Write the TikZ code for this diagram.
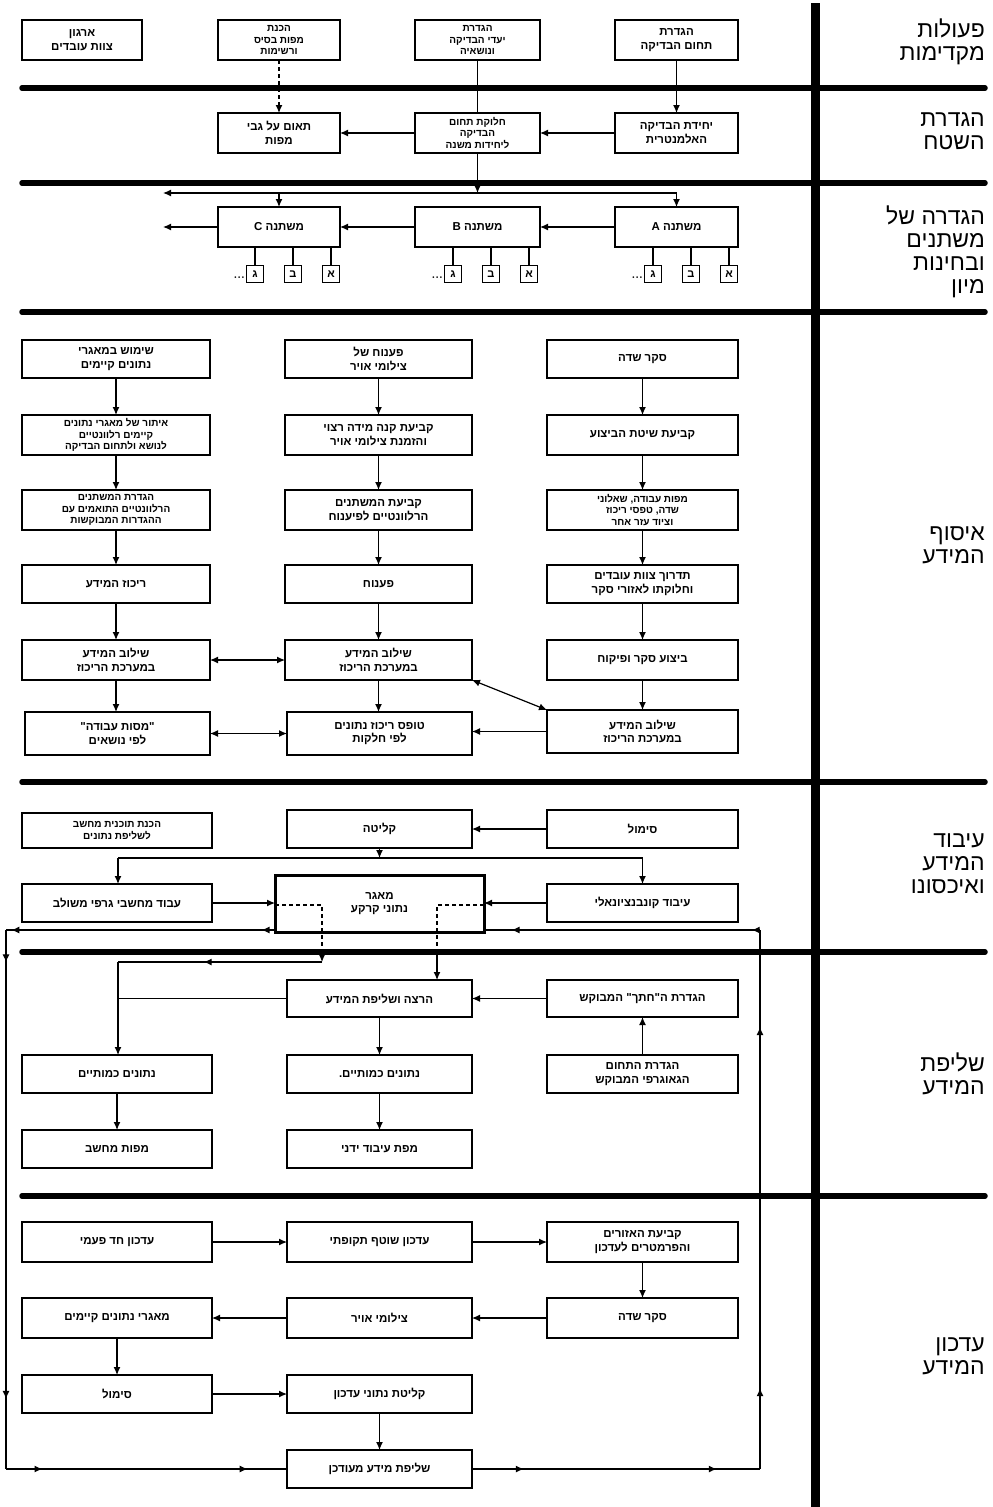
\documentclass[tikz,border=0pt]{standalone}
\usepackage{fontspec}
\usetikzlibrary{arrows.meta,decorations.markings}
\newfontfamily\hebfont[Script=Hebrew]{Liberation Sans}
\TeXXeTstate=1
\newcommand\hb[1]{\beginR #1\endR}
\tikzset{
 box/.style={draw, line width=2pt, fill=white, align=center, inner sep=0pt, outer sep=0pt, font=\hebfont\bfseries\fontsize{11.5}{13.5}\selectfont},
 tri/.style={font=\hebfont\bfseries\fontsize{10}{11.2}\selectfont},
 sbox/.style={draw, line width=1.6pt, fill=white, minimum size=17pt, inner sep=0pt, outer sep=0pt, font=\hebfont\bfseries\fontsize{11}{11}\selectfont},
 arr/.style={line width=1.2pt, -{Latex[length=8pt,width=7pt]}},
 darr/.style={line width=1.2pt, {Latex[length=8pt,width=7pt]}-{Latex[length=8pt,width=7pt]}},
 ln/.style={line width=1.2pt},
 dsh/.style={line width=1.2pt, dash pattern=on 4pt off 3pt},
 sep/.style={line width=5.5pt, line cap=round},
 lbl/.style={font=\hebfont\fontsize{23}{23}\selectfont, align=right, anchor=east, inner sep=0pt},
 marr/.style={postaction={decorate,decoration={markings,mark=at position #1 with {\arrow{Latex[length=8pt,width=7pt]}}}}}
}
\newcommand\bx[7][]{\node[box,#1,minimum width={#5-#3},minimum height={#6-#4}] (#2) at ({(#3+#5)/2},{(#4+#6)/2}) {#7};}
\begin{document}
\begin{tikzpicture}[x=1pt,y=-1pt]
\useasboundingbox (0,0) rectangle (993,1507);
% separators
\draw[line width=9pt] (815,3) -- (815,1507);
\foreach \yy in {88,183,312,782,952,1196} \draw[sep] (22,\yy) -- (985,\yy);
% section titles
\node[lbl] (t1) at (985,42) {\hb{פעולות}\\\hb{מקדימות}};
\node[lbl] (t2) at (985,131) {\hb{הגדרת}\\\hb{השטח}};
\node[lbl] (t3) at (985,252) {\hb{הגדרה של}\\\hb{משתנים}\\\hb{ובחינות}\\\hb{מיון}};
\node[lbl] (t4) at (985,545) {\hb{איסוף}\\\hb{המידע}};
\node[lbl] (t5) at (985,864) {\hb{עיבוד}\\\hb{המידע}\\\hb{ואיכסונו}};
\node[lbl] (t6) at (985,1074) {\hb{שליפת}\\\hb{המידע}};
\node[lbl] (t7) at (985,1356) {\hb{עדכון}\\\hb{המידע}};
% ---- section 1
\bx{a1}{22}{20}{142}{60}{\hb{ארגון}\\\hb{צוות עובדים}}
\bx[tri]{a2}{218}{20}{340}{60}{\hb{הכנת}\\\hb{מפות בסיס}\\\hb{ורשימות}}
\bx[tri]{a3}{415}{20}{540}{60}{\hb{הגדרת}\\\hb{יעדי הבדיקה}\\\hb{ונושאיה}}
\bx{a4}{615}{20}{738}{60}{\hb{הגדרת}\\\hb{תחום הבדיקה}}
% ---- section 2
\bx{b2}{218}{113}{340}{153}{\hb{תאום על גבי}\\\hb{מפות}}
\bx[tri]{b3}{415}{113}{540}{153}{\hb{חלוקת תחום}\\\hb{הבדיקה}\\\hb{ליחידות משנה}}
\bx{b4}{615}{113}{738}{153}{\hb{יחידת הבדיקה}\\\hb{האלמנטרית}}
\draw[dsh,-{Latex[length=8pt,width=7pt]}] (a2.south) -- (b2.north);
\draw[ln] (a3.south) -- (b3.north);
\draw[arr] (a4.south) -- (b4.north);
\draw[arr] (b4.west) -- (b3.east);
\draw[arr] (b3.west) -- (b2.east);
% ---- section 3
\bx{c2}{218}{207}{340}{247}{\hb{משתנה C}}
\bx{c3}{415}{207}{540}{247}{\hb{משתנה B}}
\bx{c4}{615}{207}{738}{247}{\hb{משתנה A}}
\coordinate (dL) at (163,193);
\coordinate (cL) at (163,227);
\draw[arr] (b3.south) -- (b3.south |- dL);
\draw[arr] (c4.north |- dL) -- (dL);
\draw[arr] (c4.north |- dL) -- (c4.north);
\draw[arr] (c2.north |- dL) -- (c2.north);
\draw[arr] (c4.west) -- (c3.east);
\draw[arr] (c3.west) -- (c2.east);
\draw[arr] (c2.west) -- (cL);
\foreach \b/\x in {c2/218,c3/416,c4/616}{
  \node[sbox] (\b g) at (\x+37,274) {\hb{ג}};
  \node[sbox] (\b b) at (\x+75,274) {\hb{ב}};
  \node[sbox] (\b a) at (\x+113,274) {\hb{א}};
  \node[font=\bfseries\fontsize{12}{12}\selectfont, anchor=east, inner sep=1pt] (\b dots) at (\x+28,278) {...};
  \foreach \s in {g,b,a} \draw[ln] (\b\s.north) -- (\b\s.north |- \b.south);
}
% ---- section 4
\bx{L1}{22}{340}{210}{378}{\hb{שימוש במאגרי}\\\hb{נתונים קיימים}}
\bx[tri]{L2}{22}{415}{210}{455}{\hb{איתור של מאגרי נתונים}\\\hb{קיימים רלוונטיים}\\\hb{לנושא ולתחום הבדיקה}}
\bx[tri]{L3}{22}{490}{210}{530}{\hb{הגדרת המשתנים}\\\hb{הרלוונטיים התואמים עם}\\\hb{ההגדרות המבוקשות}}
\bx{L4}{22}{565}{210}{603}{\hb{ריכוז המידע}}
\bx{L5}{22}{640}{210}{680}{\hb{שילוב המידע}\\\hb{במערכת הריכוז}}
\bx{L6}{25}{712}{210}{755}{\hb{"מסות עבודה"}\\\hb{לפי נושאים}}
\bx{M1}{285}{340}{472}{378}{\hb{פענוח של}\\\hb{צילומי אויר}}
\bx{M2}{285}{415}{472}{455}{\hb{קביעת קנה מידה רצוי}\\\hb{והזמנת צילומי אויר}}
\bx{M3}{285}{490}{472}{530}{\hb{קביעת המשתנים}\\\hb{הרלוונטיים לפיענוח}}
\bx{M4}{285}{565}{472}{603}{\hb{פענוח}}
\bx{M5}{285}{640}{472}{680}{\hb{שילוב המידע}\\\hb{במערכת הריכוז}}
\bx{M6}{287}{712}{472}{755}{\hb{טופס ריכוז נתונים}\\\hb{לפי חלקות}}
\bx{R1}{547}{340}{738}{378}{\hb{סקר שדה}}
\bx{R2}{547}{415}{738}{455}{\hb{קביעת שיטת הביצוע}}
\bx[tri]{R3}{547}{490}{738}{530}{\hb{מפות עבודה, שאלוני}\\\hb{שדה, טפסי ריכוז}\\\hb{וציוד עזר אחר}}
\bx{R4}{547}{565}{738}{603}{\hb{תדרוך צוות עובדים}\\\hb{וחלוקתו לאזורי סקר}}
\bx{R5}{547}{640}{738}{680}{\hb{ביצוע סקר ופיקוח}}
\bx{R6}{547}{710}{738}{753}{\hb{שילוב המידע}\\\hb{במערכת הריכוז}}
\foreach \c in {L,M,R}{
  \draw[arr] (\c1.south) -- (\c1.south |- \c2.north);
  \draw[arr] (\c2.south) -- (\c2.south |- \c3.north);
  \draw[arr] (\c3.south) -- (\c3.south |- \c4.north);
  \draw[arr] (\c4.south) -- (\c4.south |- \c5.north);
  \draw[arr] (\c5.south) -- (\c5.south |- \c6.north);
}
\draw[darr] (L5.east) -- (M5.west);
\draw[darr] (L6.east) -- (L6.east -| M6.west);
\draw[arr] (R6.west) -- (R6.west -| M6.east);
\draw[darr] (R6.north west) -- (M5.south east);
% ---- section 5
\bx[tri]{P1}{22}{813}{212}{848}{\hb{הכנת תוכנית מחשב}\\\hb{לשליפת נתונים}}
\bx{P2}{287}{810}{472}{848}{\hb{קליטה}}
\bx{P3}{547}{810}{738}{848}{\hb{סימול}}
\bx{P4}{22}{884}{212}{922}{\hb{עבוד מחשבי גרפי משולב}}
\bx[line width=3pt]{P5}{275}{875}{484}{932}{\hb{מאגר}\\\hb{נתוני קרקע}}
\bx{P6}{547}{884}{738}{922}{\hb{עיבוד קונבנציונאלי}}
\coordinate (d5) at (118,858);
\draw[arr] (P3.west) -- (P2.east);
\draw[arr] (P2.south) -- (P2.south |- d5);
\draw[ln] (d5) -- (P6.north |- d5);
\draw[arr] (d5) -- (d5 |- P4.north);
\draw[arr] (P6.north |- d5) -- (P6.north);
\draw[arr] (P4.east) -- (P4.east -| P5.west);
\draw[arr] (P6.west) -- (P6.west -| P5.east);
\coordinate (kL) at (322,905);
\coordinate (kLb) at (322,950);
\coordinate (kLc) at (322,962);
\coordinate (kR) at (437,905);
\coordinate (kRb) at (437,950);
\draw[dsh] (kL -| P5.west) -- (kL) -- (kLb);
\draw[dsh] (kR -| P5.east) -- (kR) -- (kRb);
% ---- section 6
\bx{Q1}{547}{980}{738}{1017}{\hb{הגדרת ה"חתך" המבוקש}}
\bx{Q2}{547}{1055}{738}{1093}{\hb{הגדרת התחום}\\\hb{הגאוגרפי המבוקש}}
\bx{Q3}{287}{980}{472}{1017}{\hb{הרצה ושליפת המידע}}
\bx{Q4}{287}{1055}{472}{1093}{\hb{נתונים כמותיים.}}
\bx{Q5}{287}{1130}{472}{1168}{\hb{מפת עיבוד ידני}}
\bx{Q6}{22}{1055}{212}{1093}{\hb{נתונים כמותיים}}
\bx{Q7}{22}{1130}{212}{1168}{\hb{מפות מחשב}}
\draw[arr] (kLb) -- (kLc);
\draw[ln, marr=0.58] (kLc) -- (kLc -| d5);
\draw[arr] (kLc -| d5) -- (d5 |- Q6.north);
\draw[ln] (Q3.west) -- (Q3.west -| d5);
\draw[arr] (kRb) -- (kRb |- Q3.north);
\draw[arr] (Q1.west) -- (Q3.east);
\draw[arr] (Q2.north) -- (Q1.south);
\draw[arr] (Q3.south) -- (Q4.north);
\draw[arr] (Q4.south) -- (Q5.north);
\draw[arr] (Q6.south) -- (Q7.north);
% ---- section 7
\bx{U1}{22}{1222}{212}{1262}{\hb{עדכון חד פעמי}}
\bx{U2}{287}{1222}{472}{1262}{\hb{עדכון שוטף תקופתי}}
\bx{U3}{547}{1222}{738}{1262}{\hb{קביעת האזורים}\\\hb{והפרמטרים לעדכון}}
\bx{U4}{547}{1298}{738}{1338}{\hb{סקר שדה}}
\bx{U5}{287}{1298}{472}{1338}{\hb{צילומי אויר}}
\bx{U6}{22}{1298}{212}{1338}{\hb{מאגרי נתונים קיימים}}
\bx{U7}{22}{1375}{212}{1413}{\hb{סימול}}
\bx{U8}{287}{1375}{472}{1413}{\hb{קליטת נתוני עדכון}}
\bx{U9}{287}{1450}{472}{1488}{\hb{שליפת מידע מעודכן}}
\draw[arr] (U1.east) -- (U2.west);
\draw[arr] (U2.east) -- (U3.west);
\draw[arr] (U3.south) -- (U4.north);
\draw[arr] (U4.west) -- (U5.east);
\draw[arr] (U5.west) -- (U6.east);
\draw[arr] (U6.south) -- (U7.north);
\draw[arr] (U7.east) -- (U8.west);
\draw[arr] (U8.south) -- (U9.north);
% ---- feedback loop
\coordinate (LT) at (6,930);
\coordinate (LB) at (6,1469);
\coordinate (RT) at (760,930);
\coordinate (RB) at (760,1469);
\draw[ln, marr=0.18, marr=0.85] (U9.east) -- (RB);
\draw[ln, marr=0.15, marr=0.82] (RB) -- (RT);
\draw[ln, marr=0.03, marr=0.9] (RT) -- (RT -| P5.east);
\draw[ln, marr=0.05, marr=0.98] (LT -| P5.west) -- (LT);
\draw[ln, marr=0.06, marr=0.87] (LT) -- (LB);
\draw[ln, marr=0.13, marr=0.86] (LB) -- (U9.west);
\end{tikzpicture}
\end{document}
